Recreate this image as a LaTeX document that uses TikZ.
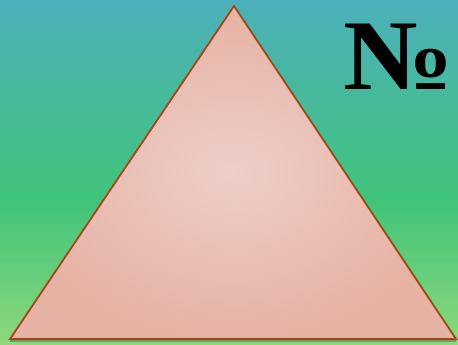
\documentclass[tikz,border=0pt]{standalone}
\usepackage{fontspec}
\usepackage{graphicx}
\setmainfont{Liberation Serif}
\begin{document}
\begin{tikzpicture}[x=1pt,y=1pt,
  tri/.style={draw=triedge,line width=1.8pt,line join=miter,shading=radial,inner color=tricenter,outer color=triouter},
  numtext/.style={font=\bfseries\fontsize{100}{100}\selectfont,inner sep=0pt,text=black}]
\definecolor{bgtop}{RGB}{76,176,186}
\definecolor{bgmid}{RGB}{64,196,122}
\definecolor{bgbot}{RGB}{142,216,124}
\definecolor{triedge}{RGB}{164,70,24}
\definecolor{tricenter}{RGB}{238,206,200}
\definecolor{triouter}{RGB}{230,178,164}
\useasboundingbox (0,0) rectangle (458,345);
\clip (0,0) rectangle (458,345);
\shade[top color=bgtop,bottom color=bgmid] (0,145) rectangle (458,345);
\shade[top color=bgmid,bottom color=bgbot] (0,0) rectangle (458,145.5);
\coordinate (A) at (234,339);
\coordinate (B) at (10,6);
\coordinate (C) at (456,6);
\fill[black,opacity=0.25] (10,3) -- (456,3) -- (456,7) -- (10,7) -- cycle;
\path[tri] (A) -- (B) -- (C) -- cycle;
\node[numtext,anchor=base west] (num) at (343,255) {\scalebox{1.1}[1]{№}};
\end{tikzpicture}
\end{document}
